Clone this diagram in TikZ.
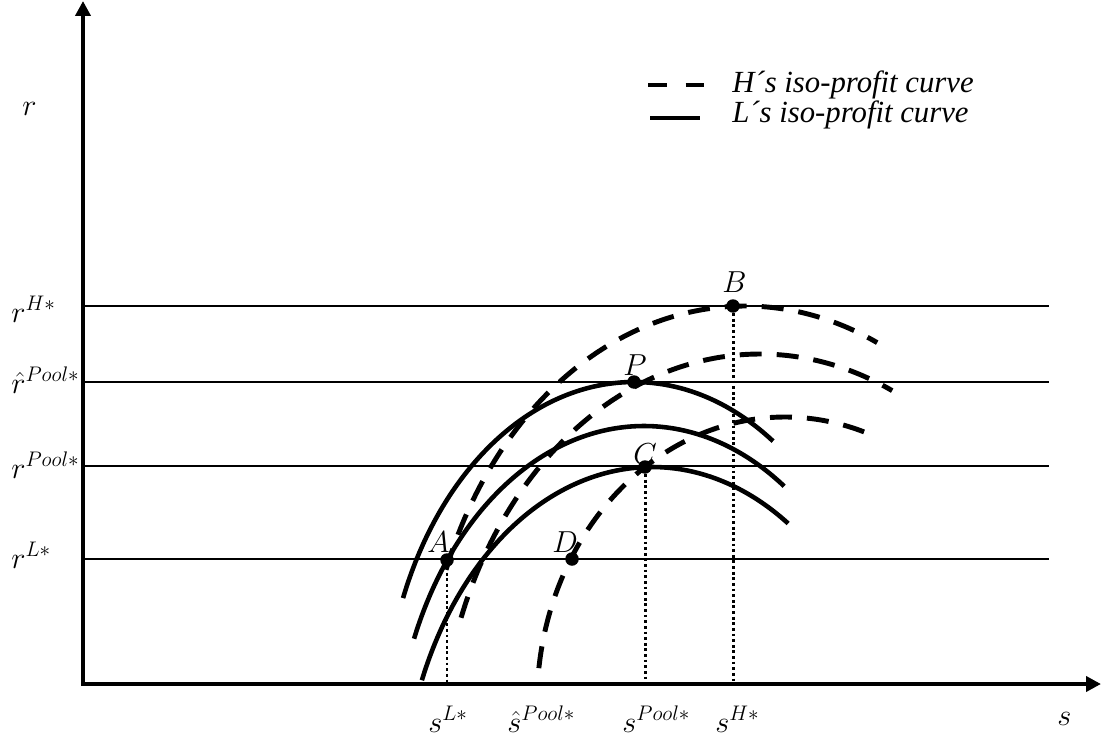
\documentclass[tikz,border=0pt]{standalone}
\usepackage{fontspec}
\newfontfamily\legendfont{Liberation Serif}
\usetikzlibrary{arrows.meta}

\begin{document}
\begin{tikzpicture}[
  x=0.02cm, y=-0.02cm,
  every node/.style={font=\fontsize{17.5}{21}\selectfont, inner sep=0pt},
  axis/.style={line width=2.3pt, line cap=rect, -{Triangle[length=0.3cm, width=0.3cm]}},
  level/.style={line width=1.1pt},
  lcurve/.style={line width=2.6pt},
  hcurve/.style={line width=2.8pt, dash pattern=on 0.44cm off 0.3cm},
  guide/.style={line width=1.7pt, dash pattern=on 1.6pt off 1.6pt},
  dot/.style={circle, fill, minimum size=0.27cm, inner sep=0pt},
  lbl/.style={anchor=base west}
]
\useasboundingbox (0,0) rectangle (1102,740);

\coordinate (O) at (83,684);
\coordinate (ytop) at (83,1);
\coordinate (xend) at (1101,684);
\coordinate (E) at (1049,684);

\coordinate (rH) at (85,306);
\coordinate (rPh) at (85,382);
\coordinate (rP) at (85,466);
\coordinate (rL) at (85,559);
\draw[level] (rH) -- (rH -| E);
\draw[level] (rPh) -- (rPh -| E);
\draw[level] (rP) -- (rP -| E);
\draw[level] (rL) -- (rL -| E);

\draw[axis] (O) -- (ytop);
\draw[axis] (O) -- (xend);

\node[lbl] (ry) at (22,115) {$r$};
\node[lbl] (sx) at (1057,725) {$s$};
\node[lbl] (lrH) at (11,322) {$r^{H*}$};
\node[lbl] (lrPh) at (11,393) {$\hat{r}^{Pool*}$};
\node[lbl] (lrP) at (11,478) {$r^{Pool*}$};
\node[lbl] (lrL) at (11,568) {$r^{L*}$};
\node[lbl] (lsL) at (428,732) {$s^{L*}$};
\node[lbl] (lsPh) at (507,732) {$\hat{s}^{Pool*}$};
\node[lbl] (lsP) at (622,732) {$s^{Pool*}$};
\node[lbl] (lsH) at (715,732) {$s^{H*}$};

% L's iso-profit curves
\draw[lcurve] plot[domain=157.5:56.2, samples=80, smooth] ({634+250*cos(\x)}, {732-350*sin(\x)});
\draw[lcurve] plot[domain=156.9:55.9, samples=80, smooth] ({644+250*cos(\x)}, {776-350*sin(\x)});
\draw[lcurve] plot[domain=157:57, samples=80, smooth] ({652+250*cos(\x)}, {817-350*sin(\x)});

% H's iso-profit curves
\draw[hcurve] plot[domain=159.1:65.6, samples=80, smooth] ({745+320*cos(\x)}, {716-410*sin(\x)});
\draw[hcurve] plot[domain=159.1:65.6, samples=80, smooth] ({760+320*cos(\x)}, {764-410*sin(\x)});
\draw[hcurve] plot[domain=173:70.4, samples=80, smooth] ({785+248*cos(\x)}, {703-286*sin(\x)});

\node[dot] (A) at (447,560) {};
\node[dot] (P) at (634,382) {};
\node[dot] (C) at (645,467) {};
\node[dot] (D) at (572,559) {};
\node[dot] (B) at (733,306) {};
\draw[guide] (A) -- (A |- O);
\draw[guide] (C) -- (C |- O);
\draw[guide] (B) -- (B |- O);

\node[lbl] (lA) at (427,552) {$A$};
\node[lbl] (lD) at (552,552) {$D$};
\node[lbl] (lP) at (623,375) {$P$};
\node[lbl] (lC) at (633,464) {$C$};
\node[lbl] (lB) at (722,292) {$B$};

\coordinate (lgHa) at (648,85);
\coordinate (lgHb) at (707,85);
\coordinate (lgLa) at (650,118);
\coordinate (lgLb) at (700,118);
\draw[line width=2.6pt, dash pattern=on 0.38cm off 0.37cm] (lgHa) -- (lgHb);
\draw[lcurve] (lgLa) -- (lgLb);
\node[lbl] (lgH) at (732,92) {\legendfont\itshape H´s iso-profit curve};
\node[lbl] (lgL) at (732,123) {\legendfont\itshape L´s iso-profit curve};
\end{tikzpicture}
\end{document}
